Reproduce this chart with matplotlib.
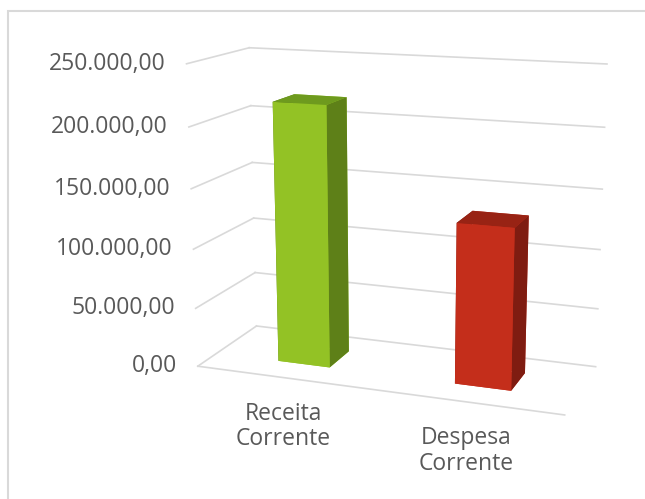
import matplotlib
matplotlib.use("Agg")
import matplotlib.pyplot as plt
import numpy as np
from matplotlib.patches import Rectangle
from matplotlib.transforms import offset_copy
from mpl_toolkits.mplot3d import proj3d

# ---- data ----
categories = ["Receita\nCorrente", "Despesa\nCorrente"]
values = [218000, 132000]
yticks = [0, 50000, 100000, 150000, 200000, 250000]
ytick_labels = ["0,00", "50.000,00", "100.000,00", "150.000,00", "200.000,00", "250.000,00"]
front_colors = ["#93C225", "#C42E1B"]
top_colors = ["#6E9A1E", "#982314"]
side_colors = ["#5E8018", "#7F1C11"]

plt.rcParams['font.family'] = ['Open Sans', 'DejaVu Sans']

fig = plt.figure(figsize=(6.45, 4.99), dpi=100)
ax = fig.add_axes([0.0, 0.088, 0.9612, 0.92], projection='3d', computed_zorder=False)
ax.set_anchor('E')
ax.set_proj_type('persp', focal_length=0.55)
ax.view_init(elev=14, azim=-70)
ax.set_box_aspect((2.0, 0.72, 1.62), zoom=1.087)
n = len(values)
xmin, xmax = 0, n
ymin, ymax = 0, 1
zmax = yticks[-1]
ax.set_xlim(xmin, xmax)
ax.set_ylim(ymin, ymax)
ax.set_zlim(0, zmax)
ax.set_xticks([])
ax.set_yticks([])
ax.set_zticks([])
ax.set_axis_off()

grid = '#D9D9D9'
for v in yticks:
    ax.plot([xmin, xmax], [ymax, ymax], [v, v], color=grid, lw=1.2, zorder=1)
    ax.plot([xmin, xmin], [ymin, ymax], [v, v], color=grid, lw=1.2, zorder=1)
ax.plot([xmin, xmax], [ymin, ymin], [0, 0], color=grid, lw=1.2, zorder=1)

bw, bd = 0.30, 0.38
xs = np.arange(n) + 0.52 - bw / 2
ys = np.full(n, 0.5 - bd / 2)
zs = np.zeros(n)
face_colors = []
for i in range(n):
    # -z, +z, -y, +y, -x, +x
    face_colors += [front_colors[i], top_colors[i], front_colors[i],
                    front_colors[i], side_colors[i], side_colors[i]]
ax.bar3d(xs, ys, zs, bw, bd, values, color=face_colors, shade=False,
         zorder=2, edgecolor='none')

# project label anchor points through the axes' own 3D projection
fig.canvas.draw()
M = ax.get_proj()
txt = '#595959'
lab_tr = offset_copy(ax.transData, fig=fig, x=-21, y=0, units='dots')
for v, lab in zip(yticks, ytick_labels):
    xp, yp, _ = proj3d.proj_transform(xmin, ymin, v, M)
    ax.text2D(xp, yp, lab, ha='right', va='center', fontsize=16.5,
              color=txt, transform=lab_tr, zorder=5)

cat_tr = offset_copy(ax.transData, fig=fig, x=0, y=-24, units='dots')
for i, c in enumerate(categories):
    xp, yp, _ = proj3d.proj_transform(i + 0.5, ymin, 0, M)
    ax.text2D(xp, yp, c, ha='center', va='top', fontsize=16.5,
              color=txt, transform=cat_tr, linespacing=1.1, zorder=5)

fig.add_artist(Rectangle((7.5 / 645, -0.1), 1.2, (499 - 11) / 499 + 0.1,
                         transform=fig.transFigure, fill=False,
                         edgecolor='#D9D9D9', lw=1.5))

fig.savefig('out.png', dpi=100)
